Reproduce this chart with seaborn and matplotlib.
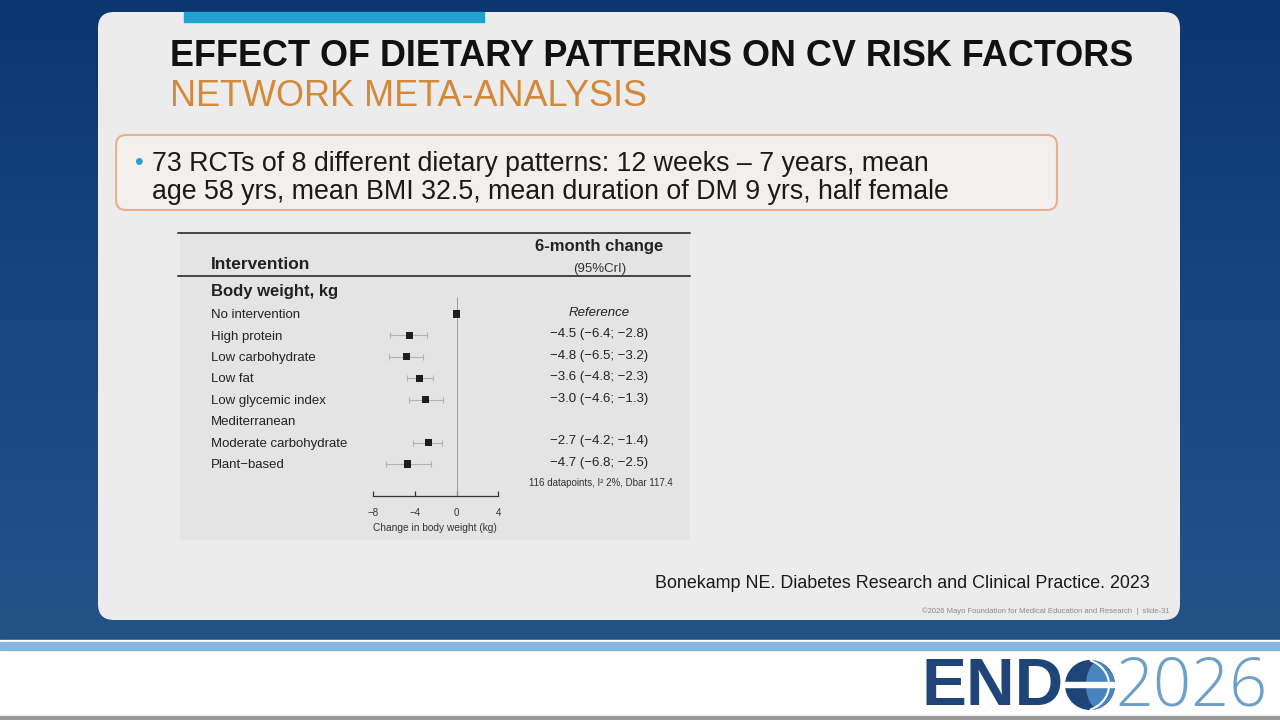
import numpy as np
import pandas as pd
import seaborn as sns
import matplotlib.pyplot as plt
from matplotlib.patches import FancyBboxPatch, Rectangle, Circle, Ellipse, Arc

# donnees du forest plot (changement a 6 mois, kg)
interventions = ["No intervention", "High protein", "Low carbohydrate", "Low fat",
                 "Low glycemic index", "Mediterranean", "Moderate carbohydrate", "Plant\u2212based"]
estimate = [0.0, -4.5, -4.8, -3.6, -3.0, np.nan, -2.7, -4.7]
ci_low = [np.nan, -6.4, -6.5, -4.8, -4.6, np.nan, -4.2, -6.8]
ci_high = [np.nan, -2.8, -3.2, -2.3, -1.3, np.nan, -1.4, -2.5]
effect_text = ["Reference", "\u22124.5 (\u22126.4; \u22122.8)", "\u22124.8 (\u22126.5; \u22123.2)",
               "\u22123.6 (\u22124.8; \u22122.3)", "\u22123.0 (\u22124.6; \u22121.3)", "",
               "\u22122.7 (\u22124.2; \u22121.4)", "\u22124.7 (\u22126.8; \u22122.5)"]
x_ticks = [-8, -4, 0, 4]

title = "EFFECT OF DIETARY PATTERNS ON CV RISK FACTORS"
subtitle = "NETWORK META-ANALYSIS"
bullet_lines = ["73 RCTs of 8 different dietary patterns: 12 weeks \u2013 7 years, mean",
                "age 58 yrs, mean BMI 32.5, mean duration of DM 9 yrs, half female"]
citation = "Bonekamp NE. Diabetes Research and Clinical Practice. 2023"
footer = "\u00a92026 Mayo Foundation for Medical Education and Research  |  slide-31"
footnote = "116 datapoints, I\u00b2 2%, Dbar 117.4"

df = pd.DataFrame({"intervention": interventions, "estimate": estimate,
                   "ci_low": ci_low, "ci_high": ci_high, "row": range(len(interventions))})

sns.set_theme(style="white")
plt.rcParams['font.family'] = ['Liberation Sans', 'DejaVu Sans']

fig = plt.figure(figsize=(12.8, 7.2), dpi=100)

# fond de la diapo (coordonnees en pixels)
bg = fig.add_axes([0, 0, 1, 1])
bg.set_xlim(0, 1280)
bg.set_ylim(720, 0)
bg.axis('off')
grad = np.linspace(0, 1, 100)[:, None]
bg.imshow(grad, extent=[0, 1280, 640, 0], cmap=sns.blend_palette(["#0c3670", "#184680", "#245388"], as_cmap=True),
          aspect='auto', zorder=0)
bg.add_patch(Rectangle((0, 640), 1280, 80, color="white", zorder=1))
bg.add_patch(Rectangle((0, 642), 1280, 8, color="#86b6dd", zorder=1))
bg.add_patch(Rectangle((0, 716), 1280, 4, color="#9a9a9a", zorder=1))

bg.add_patch(FancyBboxPatch((98, 12), 1082, 608, boxstyle="round,pad=0,rounding_size=16",
                            fc="#ececec", ec="none", zorder=2))
bg.add_patch(Rectangle((184, 12), 300, 10, color="#22a0cf", zorder=3))

bg.text(170, 57, title, fontsize=25.9, fontweight='bold', color="#111111", va='center', zorder=4)
bg.text(170, 97, subtitle, fontsize=25.9, color="#d3883a", va='center', zorder=4)

bg.add_patch(FancyBboxPatch((116, 135), 941, 75, boxstyle="round,pad=0,rounding_size=10",
                            fc="#f3efec", ec="#eab08e", lw=1.5, zorder=3))
bg.text(135, 163, "\u2022", fontsize=18, color="#2a9fd0", va='center', zorder=4)
bg.text(152, 164, bullet_lines[0], fontsize=19.3, color="#1a1a1a", va='center', zorder=4)
bg.text(152, 192, bullet_lines[1], fontsize=19.3, color="#1a1a1a", va='center', zorder=4)

bg.text(1150, 584, citation, fontsize=12.9, color="#1a1a1a", ha='right', va='center', zorder=4)
bg.text(1170, 611, footer, fontsize=5.5, color="#8a8a8a", ha='right', va='center', zorder=4)

# logo ENDO 2026
bg.text(921, 688, "END", fontsize=48.5, fontweight='bold', color="#1f4478", va='center', zorder=4)
globe = Circle((1090, 685), 25, fc="#1f4478", ec="none", zorder=4)
bg.add_patch(globe)
light = Ellipse((1101, 685), 30, 50, fc="#4a84bf", ec="none", zorder=4)
bg.add_patch(light)
light.set_clip_path(globe)
band = Rectangle((1060, 682), 60, 5, color="white", zorder=5)
bg.add_patch(band)
band.set_clip_path(globe)
bg.add_patch(Arc((1081, 685), 56, 52, theta1=-70, theta2=70, color="white", lw=1.5, zorder=5))
bg.text(1115, 688, "2026", fontsize=48, fontweight='light', family=['Open Sans', 'Liberation Sans'],
        color="#6c9fc9", va='center', zorder=4)

# forest plot
ax = fig.add_axes([180 / 1280, 180 / 720, 510 / 1280, 308 / 720])
ax.set_facecolor("#e4e4e4")
ax.set_xlim(-26.48, 22.33)
ax.set_ylim(10.55, -3.83)

ax.vlines(0, -0.8, 8.49, color="#9a9a9a", lw=0.7, zorder=1)
ci = df.dropna(subset=["ci_low"])
ax.errorbar(ci["estimate"], ci["row"], xerr=[ci["estimate"] - ci["ci_low"], ci["ci_high"] - ci["estimate"]],
            fmt='none', ecolor="#b2b2b2", elinewidth=0.8, capsize=2, capthick=0.8, zorder=2)
sns.scatterplot(data=df.dropna(subset=["estimate"]), x="estimate", y="row", marker='s', s=26,
                color="#1e1e1e", edgecolor='none', legend=False, zorder=3, ax=ax)

for s in ["top", "right", "left"]:
    ax.spines[s].set_visible(False)
ax.spines["bottom"].set_position(("data", 8.49))
ax.spines["bottom"].set_bounds(x_ticks[0], x_ticks[-1])
ax.spines["bottom"].set_color("#333333")
ax.spines["bottom"].set_linewidth(0.9)
ax.set_xticks(x_ticks)
ax.set_yticks([])
ax.tick_params(axis='x', bottom=True, direction='in', length=3.5, width=0.9, colors="#333333",
               labelsize=7, pad=9)
ax.set_xlabel("Change in body weight (kg)", fontsize=7.3, color="#333333", labelpad=3)
ax.set_ylabel("")

tr = ax.get_yaxis_transform()
ax.axhline(-3.78, xmin=-0.004, xmax=1, color="#444444", lw=1.4, clip_on=False)
ax.axhline(-1.77, xmin=-0.004, xmax=1, color="#444444", lw=1.4, clip_on=False)
ax.text(0.061, -2.33, "Intervention", transform=tr, fontsize=12.5, fontweight='bold', color="#222222", va='center')
ax.text(0.822, -3.13, "6-month change", transform=tr, fontsize=12, fontweight='bold', color="#222222",
        ha='center', va='center')
ax.text(0.822, -2.1, "(95%CrI)", transform=tr, fontsize=9.5, color="#333333", ha='center', va='center')
ax.text(0.061, -1.07, "Body weight, kg", transform=tr, fontsize=12, fontweight='bold', color="#222222", va='center')

for r, name, eff in zip(df["row"], df["intervention"], effect_text):
    ax.text(0.061, r + 0.05, name, transform=tr, fontsize=9.5, color="#222222", va='center')
    ax.text(0.822, r - 0.05, eff, transform=tr, fontsize=9.5, color="#222222", ha='center', va='center',
            style='italic' if eff == "Reference" else 'normal')
ax.text(0.825, 7.89, footnote, transform=tr, fontsize=7, color="#333333", ha='center', va='center')

fig.savefig("out.png", dpi=100)
